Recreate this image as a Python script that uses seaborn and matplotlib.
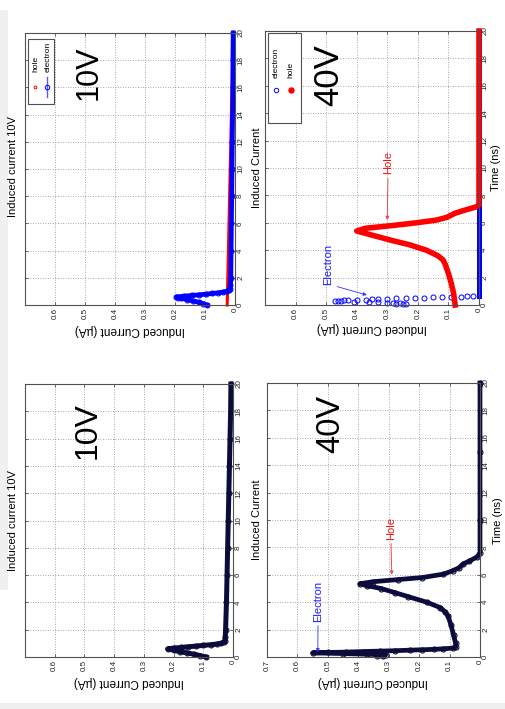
import matplotlib
matplotlib.use("Agg")
import matplotlib.pyplot as plt
import seaborn as sns
from matplotlib.patches import Rectangle
from matplotlib.lines import Line2D

plt.rcParams['font.family'] = ['Liberation Sans', 'DejaVu Sans']

# ---------------- data ----------------
time_ticks = [0, 2, 4, 6, 8, 10, 12, 14, 16, 18, 20]
current_ticks_06 = [0, 0.1, 0.2, 0.3, 0.4, 0.5, 0.6]
current_ticks_07 = [0, 0.1, 0.2, 0.3, 0.4, 0.5, 0.6, 0.7]

# 10 V, separated carriers (ns, uA)
t_hole_10 = [0, 2, 4, 6, 8, 10, 12, 14, 16, 18, 20]
i_hole_10 = [0.026, 0.024, 0.022, 0.020, 0.018, 0.016, 0.014, 0.012, 0.010, 0.008, 0.006]
t_elec_10 = [0.0, 0.1, 0.2, 0.3, 0.4, 0.5, 0.55, 0.6, 0.65, 0.7, 0.75, 0.8, 0.85, 0.9,
             0.95, 1.0, 1.1, 1.2, 1.5, 2, 4, 6, 8, 10, 12, 14, 16, 18, 20]
i_elec_10 = [0.093, 0.105, 0.12, 0.14, 0.16, 0.18, 0.19, 0.195, 0.17, 0.145, 0.12, 0.095,
             0.075, 0.055, 0.04, 0.028, 0.02, 0.016, 0.015, 0.014, 0.013, 0.012, 0.011,
             0.010, 0.009, 0.008, 0.007, 0.007, 0.006]

# 10 V, total current
t_tot_10 = [0, 0.1, 0.2, 0.3, 0.4, 0.5, 0.6, 0.65, 0.7, 0.75, 0.8, 0.85, 0.9, 0.95, 1.0,
            1.1, 1.2, 1.5, 2, 4, 6, 8, 10, 12, 14, 16, 18, 20]
i_tot_10 = [0.09, 0.11, 0.13, 0.155, 0.18, 0.2, 0.22, 0.2, 0.175, 0.15, 0.125, 0.1, 0.075,
            0.055, 0.04, 0.03, 0.027, 0.026, 0.025, 0.022, 0.02, 0.018, 0.016, 0.014,
            0.012, 0.01, 0.008, 0.007]

# 40 V, separated carriers
t_elec_40 = [0.05, 0.08, 0.1, 0.12, 0.15, 0.18, 0.2, 0.22, 0.25, 0.27, 0.3, 0.32, 0.34,
             0.36, 0.38, 0.4, 0.42, 0.44, 0.46, 0.48, 0.5, 0.52, 0.54, 0.56, 0.58, 0.6,
             0.62, 0.64, 0.66]
i_elec_40 = [0.24, 0.27, 0.25, 0.28, 0.26, 0.30, 0.33, 0.36, 0.41, 0.45, 0.47, 0.46, 0.43,
             0.44, 0.40, 0.37, 0.35, 0.33, 0.30, 0.27, 0.24, 0.21, 0.18, 0.15, 0.12, 0.09,
             0.06, 0.04, 0.02]
t_elec_40_tail = [0.66, 20]
i_elec_40_tail = [0.0, 0.0]
t_hole_40 = [0, 0.85, 1.6, 2.3, 3.0, 3.3, 3.6, 4.0, 4.4, 4.7, 5.1, 5.4, 5.6, 5.8, 6.0,
             6.2, 6.4, 6.7, 6.9, 7.15, 7.3, 8, 10, 12, 14, 16, 18, 20]
i_hole_40 = [0.078, 0.083, 0.091, 0.10, 0.111, 0.118, 0.135, 0.172, 0.228, 0.283, 0.35,
             0.40, 0.372, 0.283, 0.205, 0.139, 0.105, 0.078, 0.05, 0.011, 0.0, 0.0, 0.0,
             0.0, 0.0, 0.0, 0.0, 0.0]

# 40 V, total current
t_tot_40 = [0.05, 0.1, 0.15, 0.2, 0.25, 0.3, 0.33, 0.36, 0.4, 0.43, 0.46, 0.5, 0.53, 0.56,
            0.6, 0.65, 0.7, 1.0, 1.6, 2.3, 3.0, 3.3, 3.6, 4.0, 4.4, 4.7, 5.0, 5.2, 5.35,
            5.5, 5.65, 5.8, 6.05, 6.3, 6.5, 6.8, 7.0, 7.3, 7.6, 10, 15, 20]
i_tot_40 = [0.32, 0.34, 0.31, 0.37, 0.45, 0.55, 0.50, 0.44, 0.38, 0.33, 0.28, 0.23, 0.19,
            0.15, 0.12, 0.09, 0.08, 0.08, 0.087, 0.095, 0.105, 0.115, 0.13, 0.175, 0.235,
            0.28, 0.325, 0.37, 0.395, 0.35, 0.27, 0.19, 0.12, 0.09, 0.07, 0.055, 0.035,
            0.01, 0.0, 0.0, 0.0, 0.0]

# ---------------- figure ----------------
W, H = 506, 709
fig = plt.figure(figsize=(W / 100, H / 100), dpi=100)
fig.patch.set_facecolor('white')

# light grey margins of the scanned page
fig.patches.append(Rectangle((0, 1 - 590 / H), 8 / W, 580 / H, transform=fig.transFigure,
                             facecolor='#f0f0f0', edgecolor='none', zorder=0))
fig.patches.append(Rectangle((0, 0), 1, 6 / H, transform=fig.transFigure,
                             facecolor='#f0f0f0', edgecolor='none', zorder=0))

NAVY = '#0c0c3c'
BLUE = '#0000ff'
RED = '#ff0000'
GRID = '#8a8a8a'
EDGE = '#505050'


def add_ax(l, t, r, b):
    return fig.add_axes([l / W, 1 - b / H, (r - l) / W, (b - t) / H])


def fmt(v):
    return '0' if v == 0 else f'{v:g}'


def style(ax, cticks):
    ax.set_xlim(0.7, 0)
    ax.set_ylim(0, 20)
    ax.set_xticks(cticks)
    ax.set_xticklabels([fmt(v) for v in cticks])
    ax.set_yticks(time_ticks)
    ax.set_yticklabels([str(v) for v in time_ticks])
    ax.set_xlabel('')
    ax.set_ylabel('')
    ax.tick_params(axis='both', direction='in', length=2.5, width=0.6, colors=EDGE,
                   labelcolor='#222222', labelsize=5.8,
                   top=True, bottom=True, left=True, right=True,
                   labelleft=False, labelright=True, labelbottom=True, labeltop=False)
    ax.tick_params(axis='x', labelrotation=90, pad=2)
    ax.tick_params(axis='y', labelrotation=90, pad=1.5)
    for lab in ax.get_yticklabels():
        lab.set_va('center')
        lab.set_ha('left')
    ax.grid(True, color=GRID, linestyle=(0, (1, 2)), linewidth=0.6)
    ax.set_axisbelow(True)
    for s in ax.spines.values():
        s.set_color(EDGE)
        s.set_linewidth(0.8)


def ftext(x, y, s, **kw):
    fig.text(x / W, 1 - y / H, s, **kw)


# ----- top-left: 10 V hole / electron -----
ax1 = add_ax(25, 33, 235, 305)
style(ax1, current_ticks_06)
sns.lineplot(x=i_hole_10, y=t_hole_10, ax=ax1, sort=False, estimator=None, color=RED,
             linewidth=2.2, clip_on=False)
sns.lineplot(x=i_elec_10, y=t_elec_10, ax=ax1, sort=False, estimator=None, color=BLUE,
             linewidth=3.4, marker='o', markersize=3.5, markerfacecolor='none',
             markeredgecolor=BLUE, markeredgewidth=0.8, clip_on=False)
ax1.set_xlabel(''); ax1.set_ylabel('')
ax1.text(0.305, 0.853, '10V', transform=ax1.transAxes, rotation=90, fontsize=22,
         ha='center', va='center', color='black')
# legend
ax1.add_patch(Rectangle((0.014, 0.739), 0.124, 0.239, transform=ax1.transAxes,
                        facecolor='white', edgecolor=EDGE, linewidth=0.8, zorder=5))
ax1.add_line(Line2D([0.048], [0.801], transform=ax1.transAxes, marker='o', markersize=2,
                    markerfacecolor='none', markeredgecolor=RED, markeredgewidth=0.7,
                    linestyle='', zorder=6))
ax1.add_line(Line2D([0.105, 0.105], [0.765, 0.838], transform=ax1.transAxes,
                    color='#5a5aff', linewidth=1.0, zorder=6))
ax1.add_line(Line2D([0.105], [0.801], transform=ax1.transAxes, marker='o', markersize=3.2,
                    markerfacecolor='none', markeredgecolor=BLUE, markeredgewidth=0.7,
                    linestyle='', zorder=6))
ax1.text(0.052, 0.857, 'hole', transform=ax1.transAxes, rotation=90, fontsize=6,
         ha='center', va='bottom', zorder=6)
ax1.text(0.110, 0.857, 'electron', transform=ax1.transAxes, rotation=90, fontsize=6,
         ha='center', va='bottom', zorder=6)
ftext(13, 167, 'Induced current 10V', rotation=90, fontsize=8, ha='center', va='center')
ftext(130, 330, 'Induced Current (\u00b5A)', rotation=180, fontsize=8.5, ha='center',
      va='center')

# ----- top-right: 40 V electron / hole -----
ax2 = add_ax(265, 31, 479, 305)
style(ax2, current_ticks_06)
sns.lineplot(x=i_elec_40_tail, y=t_elec_40_tail, ax=ax2, sort=False, estimator=None,
             color=BLUE, linewidth=3.6, clip_on=False)
sns.lineplot(x=i_elec_40, y=t_elec_40, ax=ax2, sort=False, estimator=None, color=BLUE,
             linestyle='', marker='o', markersize=3.6, markerfacecolor='none',
             markeredgecolor=BLUE, markeredgewidth=0.7, clip_on=False)
sns.lineplot(x=i_hole_40, y=t_hole_40, ax=ax2, sort=False, estimator=None, color=RED,
             linewidth=4.0, clip_on=False)
ax2.set_xlabel(''); ax2.set_ylabel('')
ax2.text(0.30, 0.84, '40V', transform=ax2.transAxes, rotation=90, fontsize=25,
         ha='center', va='center', color='black')
ax2.add_patch(Rectangle((0.014, 0.664), 0.154, 0.329, transform=ax2.transAxes,
                        facecolor='white', edgecolor=EDGE, linewidth=0.8, zorder=5))
ax2.add_line(Line2D([0.051], [0.785], transform=ax2.transAxes, marker='o', markersize=3.2,
                    markerfacecolor='none', markeredgecolor=BLUE, markeredgewidth=0.7,
                    linestyle='', zorder=6))
ax2.add_line(Line2D([0.121], [0.785], transform=ax2.transAxes, marker='o', markersize=3.6,
                    markerfacecolor=RED, markeredgecolor=RED, linestyle='', zorder=6))
ax2.text(0.051, 0.828, 'electron', transform=ax2.transAxes, rotation=90, fontsize=6,
         ha='center', va='bottom', zorder=6)
ax2.text(0.121, 0.828, 'hole', transform=ax2.transAxes, rotation=90, fontsize=6,
         ha='center', va='bottom', zorder=6)
ax2.annotate('Electron', xy=(0.367, 0.73), xycoords='data', xytext=(328, H - 264),
             textcoords='figure pixels', rotation=90, fontsize=8, color='#1a1aff',
             ha='center', va='center',
             arrowprops=dict(arrowstyle='-|>', color='#3030ff', lw=0.6, mutation_scale=5,
                             shrinkA=1, shrinkB=0, relpos=(0.7, 0.0)))
ax2.annotate('Hole', xy=(0.30, 6.2), xycoords='data', xytext=(388, H - 163),
             textcoords='figure pixels', rotation=90, fontsize=8, color='#ee1111',
             ha='center', va='center',
             arrowprops=dict(arrowstyle='-|>', color='#e05050', lw=0.7, mutation_scale=5,
                             shrinkA=1, shrinkB=0, relpos=(0.5, 0.0)))
ftext(257, 168, 'Induced Current', rotation=90, fontsize=8, ha='center', va='center')
ftext(372, 328, 'Induced Current (\u00b5A)', rotation=180, fontsize=8.5, ha='center',
      va='center')
ftext(496, 168, 'Time (ns)', rotation=90, fontsize=8, ha='center', va='center')

# ----- bottom-left: 10 V total -----
ax3 = add_ax(25, 384, 233, 657)
style(ax3, current_ticks_06)
sns.lineplot(x=i_tot_10, y=t_tot_10, ax=ax3, sort=False, estimator=None, color=NAVY,
             linewidth=3.6, marker='o', markersize=3.5, markerfacecolor='none',
             markeredgecolor=NAVY, markeredgewidth=0.8, clip_on=False)
ax3.set_xlabel(''); ax3.set_ylabel('')
ax3.text(0.30, 0.83, '10V', transform=ax3.transAxes, rotation=90, fontsize=23,
         ha='center', va='center', color='black')
ftext(13, 521, 'Induced current 10V', rotation=90, fontsize=8, ha='center', va='center')
ftext(129, 682, 'Induced Current (\u00b5A)', rotation=180, fontsize=8.5, ha='center',
      va='center')

# ----- bottom-right: 40 V total -----
ax4 = add_ax(267, 383, 480, 657)
style(ax4, current_ticks_07)
sns.lineplot(x=i_tot_40, y=t_tot_40, ax=ax4, sort=False, estimator=None, color=NAVY,
             linewidth=3.4, marker='o', markersize=3.6, markerfacecolor='none',
             markeredgecolor=NAVY, markeredgewidth=0.8, clip_on=False)
ax4.set_xlabel(''); ax4.set_ylabel('')
ax4.text(0.30, 0.85, '40V', transform=ax4.transAxes, rotation=90, fontsize=23.5,
         ha='center', va='center', color='black')
ax4.annotate('Electron', xy=(0.533, 0.35), xycoords='data', xytext=(318, H - 601),
             textcoords='figure pixels', rotation=90, fontsize=8, color='#1a1aff',
             ha='center', va='center',
             arrowprops=dict(arrowstyle='-|>', color='#3030ff', lw=0.6, mutation_scale=5,
                             shrinkA=1, shrinkB=0, relpos=(0.5, 0.0)))
ax4.annotate('Hole', xy=(0.29, 6.0), xycoords='data', xytext=(391, H - 528),
             textcoords='figure pixels', rotation=90, fontsize=8, color='#ee1111',
             ha='center', va='center',
             arrowprops=dict(arrowstyle='-|>', color='#e05050', lw=0.7, mutation_scale=5,
                             shrinkA=1, shrinkB=0, relpos=(0.5, 0.0)))
ftext(257, 520, 'Induced Current', rotation=90, fontsize=8, ha='center', va='center')
ftext(373, 682, 'Induced Current (\u00b5A)', rotation=180, fontsize=8.5, ha='center',
      va='center')
ftext(498, 521, 'Time (ns)', rotation=90, fontsize=8, ha='center', va='center')

fig.savefig('out.png', dpi=100)
